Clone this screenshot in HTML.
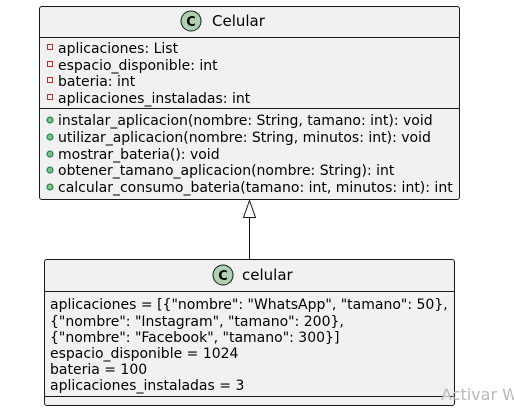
<!DOCTYPE html>
<html><head><style>body{margin:0;background:#fff}svg{display:block}text{font-family:"DejaVu Sans","Liberation Sans",sans-serif;font-size:14px;fill:#000}</style></head>
<body>
<svg width="514" height="414" viewBox="0 0 514 414">
<rect x="39.5" y="6.5" width="420" height="193" rx="2.5" fill="#f1f1f1" stroke="#181818"/>
<line x1="39.5" y1="37.5" x2="459.5" y2="37.5" stroke="#181818"/>
<line x1="39.5" y1="108.5" x2="459.5" y2="108.5" stroke="#181818"/>
<circle cx="191" cy="21" r="10" fill="#add1b2" stroke="#181818"/>
<text x="191" y="26" text-anchor="middle" style="font-weight:bold;font-size:13px">C</text>
<text x="212" y="26" style="font-size:15px">Celular</text>
<g fill="none" stroke="#c82930"><rect x="47.5" y="44.5" width="5" height="5"/><rect x="47.5" y="61.5" width="5" height="5"/><rect x="47.5" y="77.5" width="5" height="5"/><rect x="47.5" y="94.5" width="5" height="5"/></g>
<text x="58" y="53">aplicaciones: List</text>
<text x="58" y="70">espacio_disponible: int</text>
<text x="58" y="86">bateria: int</text>
<text x="58" y="103">aplicaciones_instaladas: int</text>
<g fill="#84be84" stroke="#038048"><circle cx="50" cy="120" r="3"/><circle cx="50" cy="137" r="3"/><circle cx="50" cy="154" r="3"/><circle cx="50" cy="170" r="3"/><circle cx="50" cy="187" r="3"/></g>
<text x="58" y="125">instalar_aplicacion(nombre: String, tamano: int): void</text>
<text x="58" y="142">utilizar_aplicacion(nombre: String, minutos: int): void</text>
<text x="58" y="159">mostrar_bateria(): void</text>
<text x="58" y="175">obtener_tamano_aplicacion(nombre: String): int</text>
<text x="58" y="192">calcular_consumo_bateria(tamano: int, minutos: int): int</text>
<line x1="249.5" y1="217" x2="249.5" y2="259" stroke="#181818"/>
<polygon points="249.5,200.5 243.5,217.5 255.5,217.5" fill="#fff" stroke="#181818"/>
<rect x="44.5" y="259.5" width="410" height="146" rx="2.5" fill="#f1f1f1" stroke="#181818"/>
<line x1="44.5" y1="291.5" x2="454.5" y2="291.5" stroke="#181818"/>
<line x1="44.5" y1="396.5" x2="454.5" y2="396.5" stroke="#181818"/>
<circle cx="223" cy="275" r="10" fill="#add1b2" stroke="#181818"/>
<text x="223" y="280" text-anchor="middle" style="font-weight:bold;font-size:13px">C</text>
<text x="242" y="280" style="font-size:15px">celular</text>
<text x="50" y="309">aplicaciones = [{"nombre": "WhatsApp", "tamano": 50},</text>
<text x="50" y="326">{"nombre": "Instagram", "tamano": 200},</text>
<text x="50" y="342">{"nombre": "Facebook", "tamano": 300}]</text>
<text x="50" y="358">espacio_disponible = 1024</text>
<text x="50" y="374">bateria = 100</text>
<text x="50" y="390">aplicaciones_instaladas = 3</text>
<text x="441" y="400" style="font-size:16px;fill:#b8b8b8">Activar W</text>
</svg>
</body></html>
